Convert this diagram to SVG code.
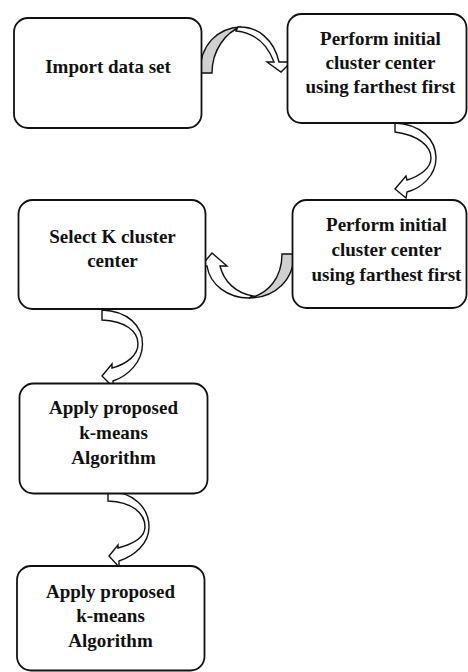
<svg xmlns="http://www.w3.org/2000/svg" width="468" height="672" viewBox="0 0 468 672">
<style>
.box{fill:#fff;stroke:#111;stroke-width:1.8}
.t{font-family:'Liberation Serif','DejaVu Serif',serif;font-weight:700;font-size:19px;fill:#111;text-anchor:middle}
.aw{fill:#fff;stroke:#111;stroke-width:1.4;stroke-linejoin:miter}
.ag{fill:#d0d0d0;stroke:#111;stroke-width:1.4}
</style>
<rect width="468" height="672" fill="#fff"/>
<g id="connectors">
<g id="arrow1">
<path class="ag" d="M200,73 C200,45 217,28 241,27 C226,32 212,50 212,73 Z"/>
<path class="aw" d="M238,27 C258,26 274,40 279,62 L291,62 L281,72 L267,62 L274,62 C268,46 256,33 236,31 Z"/>
</g>
<path id="arrow2" class="aw" d="M395,123 C421,124 436,140 436,158 C436,175 422,188 407,192 L406,198 L395,189 L406,176 L407,180 C420,176 431,168 431,158 C431,146 418,135 395,132 Z"/>
<g id="arrow3">
<path class="ag" d="M294,254 C294,280 275,298 249,298 C268,294 282,278 282,254 Z"/>
<path class="aw" d="M249,298 C228,298 210,285 207,266 L201,266 L212,253 L227,266 L220,266 C224,282 236,293 253,296 Z"/>
</g>
<path id="arrow4" class="aw" d="M102,310 C128,311 142.5,326 142.5,344 C142.5,362 128,376 113,381 L113,387 L102,376 L112,364 L112,368 C127,364 138,355 138,344 C138,331 125,321 102,320 Z"/>
<path id="arrow5" class="aw" d="M108,491 C134,492 149,508 149,527 C149,544 134,556 119,561 L119,567 L109,556 L118,545 L118,548 C133,544 145,537 145,527 C145,513 132,502 108,501 Z"/>
</g>
<g id="node1">
<rect class="box" x="14" y="18" width="187.5" height="110" rx="14"/>
<text class="t" x="108" y="73" font-family="Liberation Serif, serif">Import data set</text>
</g>
<g id="node2">
<rect class="box" x="287.5" y="14" width="179" height="109" rx="14"/>
<text class="t" x="380.5" y="45">Perform initial</text>
<text class="t" x="380.5" y="69">cluster center</text>
<text class="t" x="380.5" y="93">using farthest first</text>
</g>
<g id="node3">
<rect class="box" x="292.5" y="200" width="174" height="108" rx="14"/>
<text class="t" x="386.5" y="231">Perform initial</text>
<text class="t" x="386.5" y="256">cluster center</text>
<text class="t" x="386.5" y="281">using farthest first</text>
</g>
<g id="node4">
<rect class="box" x="18.5" y="200" width="187" height="109" rx="14"/>
<text class="t" x="112.5" y="243">Select K cluster</text>
<text class="t" x="112.5" y="267">center</text>
</g>
<g id="node5">
<rect class="box" x="19.5" y="383.5" width="188" height="110" rx="14"/>
<text class="t" x="113.5" y="414">Apply proposed</text>
<text class="t" x="113.5" y="439">k-means</text>
<text class="t" x="113.5" y="464">Algorithm</text>
</g>
<g id="node6">
<rect class="box" x="17" y="566" width="187.5" height="104.5" rx="14"/>
<text class="t" x="110.5" y="598">Apply proposed</text>
<text class="t" x="110.5" y="622">k-means</text>
<text class="t" x="110.5" y="647">Algorithm</text>
</g>
</svg>
